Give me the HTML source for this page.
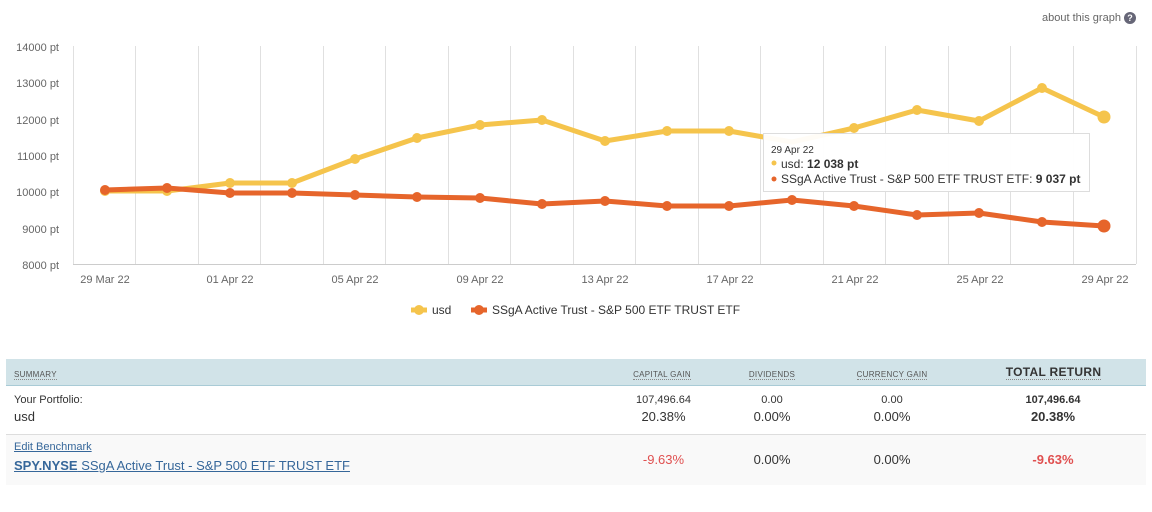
<!DOCTYPE html>
<html><head><style>
body{margin:0;width:1152px;height:512px;background:#fff;font-family:"Liberation Sans",sans-serif;position:relative;overflow:hidden}
.abs{position:absolute}
table{position:absolute;left:6px;top:359px;width:1140px;border-collapse:collapse;font-size:13px;color:#333}
th{background:#d1e3e8;height:20px;box-sizing:content-box;border-bottom:1px solid #a9cbd6;font-weight:normal;font-size:8px;line-height:9px;color:#555;text-transform:uppercase;letter-spacing:.3px;vertical-align:bottom;padding:0 0 6px 0}
th span{border-bottom:1px dotted #888}
td{vertical-align:top}
.c{text-align:center}
</style></head><body>
<div class="abs" style="right:16px;top:12px;font-size:11px;color:#666">about this graph <span style="display:inline-block;width:12px;height:12px;border-radius:6px;background:#667;color:#fff;font-size:9px;text-align:center;line-height:12px;font-weight:bold">?</span></div>
<svg class="abs" style="left:0;top:0" width="1152" height="340">
<g stroke="#e0e0e0" stroke-width="1">
<line x1="73.5" y1="46" x2="73.5" y2="264"/><line x1="135.5" y1="46" x2="135.5" y2="264"/><line x1="198.5" y1="46" x2="198.5" y2="264"/><line x1="260.5" y1="46" x2="260.5" y2="264"/><line x1="323.5" y1="46" x2="323.5" y2="264"/><line x1="385.5" y1="46" x2="385.5" y2="264"/><line x1="448.5" y1="46" x2="448.5" y2="264"/><line x1="510.5" y1="46" x2="510.5" y2="264"/><line x1="573.5" y1="46" x2="573.5" y2="264"/><line x1="635.5" y1="46" x2="635.5" y2="264"/><line x1="698.5" y1="46" x2="698.5" y2="264"/><line x1="760.5" y1="46" x2="760.5" y2="264"/><line x1="823.5" y1="46" x2="823.5" y2="264"/><line x1="885.5" y1="46" x2="885.5" y2="264"/><line x1="948.5" y1="46" x2="948.5" y2="264"/><line x1="1010.5" y1="46" x2="1010.5" y2="264"/><line x1="1073.5" y1="46" x2="1073.5" y2="264"/><line x1="1136.5" y1="46" x2="1136.5" y2="264"/>
<line x1="73" y1="264.5" x2="1136" y2="264.5" stroke="#ccc"/>
</g>
<g font-size="11" fill="#666" text-anchor="end">
<text x="59" y="51">14000 pt</text><text x="59" y="87">13000 pt</text><text x="59" y="124">12000 pt</text><text x="59" y="160">11000 pt</text><text x="59" y="196">10000 pt</text><text x="59" y="233">9000 pt</text><text x="59" y="269">8000 pt</text>
</g>
<g font-size="11" fill="#666" text-anchor="middle">
<text x="105" y="283">29 Mar 22</text><text x="230" y="283">01 Apr 22</text><text x="355" y="283">05 Apr 22</text><text x="480" y="283">09 Apr 22</text><text x="605" y="283">13 Apr 22</text><text x="730" y="283">17 Apr 22</text><text x="855" y="283">21 Apr 22</text><text x="980" y="283">25 Apr 22</text><text x="1105" y="283">29 Apr 22</text>
</g>
<polyline fill="none" stroke="#f5c44c" stroke-width="5" stroke-linejoin="round" points="105,191 167,191 230,183 292,183 355,159 417,138 480,125 542,120 605,141 667,131 729,131 792,142 854,128 917,110 979,121 1042,88 1104,117"/>
<g fill="#f5c44c"><circle cx="105" cy="191" r="5"/><circle cx="167" cy="191" r="5"/><circle cx="230" cy="183" r="5"/><circle cx="292" cy="183" r="5"/><circle cx="355" cy="159" r="5"/><circle cx="417" cy="138" r="5"/><circle cx="480" cy="125" r="5"/><circle cx="542" cy="120" r="5"/><circle cx="605" cy="141" r="5"/><circle cx="667" cy="131" r="5"/><circle cx="729" cy="131" r="5"/><circle cx="854" cy="128" r="5"/><circle cx="917" cy="110" r="5"/><circle cx="979" cy="121" r="5"/><circle cx="1042" cy="88" r="5"/><circle cx="1104" cy="117" r="6.5"/></g>
<polyline fill="none" stroke="#e6652b" stroke-width="5" stroke-linejoin="round" points="105,190 167,188 230,193 292,193 355,195 417,197 480,198 542,204 605,201 667,206 729,206 792,200 854,206 917,215 979,213 1042,222 1104,226"/>
<g fill="#e6652b"><circle cx="105" cy="190" r="5"/><circle cx="167" cy="188" r="5"/><circle cx="230" cy="193" r="5"/><circle cx="292" cy="193" r="5"/><circle cx="355" cy="195" r="5"/><circle cx="417" cy="197" r="5"/><circle cx="480" cy="198" r="5"/><circle cx="542" cy="204" r="5"/><circle cx="605" cy="201" r="5"/><circle cx="667" cy="206" r="5"/><circle cx="729" cy="206" r="5"/><circle cx="792" cy="200" r="5"/><circle cx="854" cy="206" r="5"/><circle cx="917" cy="215" r="5"/><circle cx="979" cy="213" r="5"/><circle cx="1042" cy="222" r="5"/><circle cx="1104" cy="226" r="6.5"/></g>
<rect x="763.5" y="133.5" width="326" height="58" fill="#fff" fill-opacity="0.95" stroke="#ddd"/>
<text x="771" y="153" font-size="10" fill="#333">29 Apr 22</text>
<circle cx="774" cy="163" r="2.5" fill="#f5c44c"/>
<text x="781" y="168" font-size="12" fill="#333">usd: <tspan font-weight="bold">12 038 pt</tspan></text>
<circle cx="774" cy="179" r="2.5" fill="#e6652b"/>
<text x="781" y="183" font-size="12" fill="#333">SSgA Active Trust - S&amp;P 500 ETF TRUST ETF: <tspan font-weight="bold">9 037 pt</tspan></text>
<line x1="411" y1="310" x2="427" y2="310" stroke="#f5c44c" stroke-width="5"/><circle cx="419" cy="310" r="5" fill="#f5c44c"/>
<text x="432" y="314" font-size="12" fill="#333">usd</text>
<line x1="471" y1="310" x2="487" y2="310" stroke="#e6652b" stroke-width="5"/><circle cx="479" cy="310" r="5" fill="#e6652b"/>
<text x="492" y="314" font-size="12" fill="#333">SSgA Active Trust - S&amp;P 500 ETF TRUST ETF</text>
</svg>
<table>
<tr><th style="text-align:left;padding-left:8px"><span>Summary</span></th><th style="width:110px"><span>Capital gain</span></th><th style="width:110px"><span>Dividends</span></th><th style="width:130px"><span>Currency gain</span></th><th style="width:185px;font-size:12px;line-height:13px;font-weight:bold;color:#333;padding-bottom:6px;padding-left:4px"><span>TOTAL RETURN</span></th></tr>
<tr style="height:49px;border-bottom:1px solid #ddd"><td style="padding:8px 8px 0"><div style="font-size:11px">Your Portfolio:</div><div style="margin-top:3px">usd</div></td>
<td class="c" style="padding-top:8px;padding-left:4px"><div style="font-size:11px">107,496.64</div><div style="margin-top:3px">20.38%</div></td>
<td class="c" style="padding-top:8px"><div style="font-size:11px">0.00</div><div style="margin-top:3px">0.00%</div></td>
<td class="c" style="padding-top:8px"><div style="font-size:11px">0.00</div><div style="margin-top:3px">0.00%</div></td>
<td class="c" style="padding-top:8px;padding-left:4px;font-weight:bold"><div style="font-size:11px">107,496.64</div><div style="margin-top:3px">20.38%</div></td></tr>
<tr style="height:50px;background:#f9f9f9"><td style="padding:6px 8px 0"><div style="font-size:11px;color:#36679a;text-decoration:underline">Edit Benchmark</div><div style="margin-top:5px;color:#36679a;text-decoration:underline"><b>SPY.NYSE</b> SSgA Active Trust - S&amp;P 500 ETF TRUST ETF</div></td>
<td class="c" style="vertical-align:middle;color:#e05050;padding-left:4px">-9.63%</td><td class="c" style="vertical-align:middle">0.00%</td><td class="c" style="vertical-align:middle">0.00%</td><td class="c" style="vertical-align:middle;color:#e05050;font-weight:bold;padding-left:4px">-9.63%</td></tr>
</table>
</body></html>
